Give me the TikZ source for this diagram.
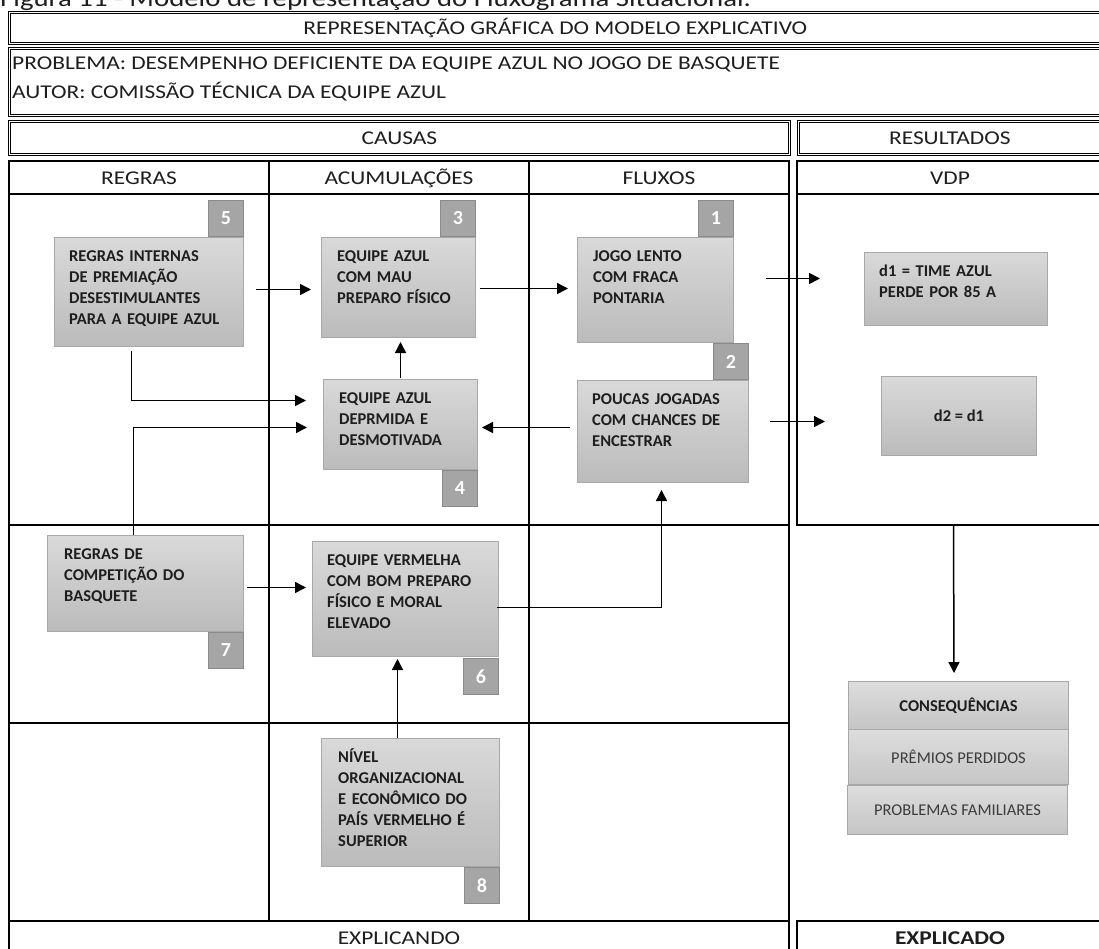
\documentclass[tikz,border=0pt]{standalone}
\usepackage{fontspec}
\setmainfont{Carlito}
\newfontfamily\hdrfont{Carlito}[FakeStretch=1.2]
\usetikzlibrary{arrows.meta,calc}
\definecolor{boxtop}{HTML}{D9D9D9}
\definecolor{boxbot}{HTML}{BBBBBB}
\definecolor{boxline}{HTML}{A8A8A8}
\definecolor{numfill}{HTML}{A5A5A5}
\definecolor{numline}{HTML}{8A8A8A}
\definecolor{txt}{HTML}{1E1E1E}
\definecolor{txtgray}{HTML}{3C3C3C}
\newcommand\hdrsize{\hdrfont\fontsize{19.5}{24}\selectfont}
\newcommand\boxsize{\fontsize{16.5}{21}\selectfont\bfseries}
\begin{document}
\begin{tikzpicture}[x=1pt,y=-1pt,
  frame/.style={draw=black, line width=0.7pt, double, double distance=1.2pt, anchor=north west, inner sep=0pt, font=\hdrsize, text=txt},
  gridline/.style={draw=black, line width=1.4pt},
  hdr/.style={font=\hdrsize, text=txt, inner sep=0pt},
  sbox/.style={draw=boxline, line width=1pt, top color=boxtop, bottom color=boxbot, anchor=north west, inner sep=0pt},
  btxt/.style={font=\boxsize, text=txt, align=left, anchor=north west, inner sep=0pt},
  numbox/.style={draw=numline, line width=1pt, fill=numfill, text=white, font=\fontsize{20}{24}\selectfont\bfseries, minimum width=35pt, minimum height=36pt, inner sep=0pt},
  arr/.style={draw=black, line width=1.5pt, -{Triangle[length=11pt,width=11pt]}}
]
\useasboundingbox (0,0) rectangle (1099,948);
\clip (0,0) rectangle (1099,948);
\fill[white] (0,0) rectangle (1099,948);

% caption (cut at the top)
\node[hdr, font=\hdrfont\fontsize{24}{28}\selectfont, anchor=base west] (caption) at (0,6) {Figura 11 - Modelo de representação do Fluxograma Situacional.};

% header boxes
\node[frame, minimum width=1092pt, minimum height=31pt] (title) at (9,12) {REPRESENTAÇÃO GRÁFICA DO MODELO EXPLICATIVO};
\node[frame, minimum width=1092pt, minimum height=67pt] (probbox) at (9,48) {};
\node[hdr, anchor=base west] (prob) at (12,69.5) {PROBLEMA: DESEMPENHO DEFICIENTE DA EQUIPE AZUL NO JOGO DE BASQUETE};
\node[hdr, anchor=base west] (autor) at (12,98.5) {AUTOR: COMISSÃO TÉCNICA DA EQUIPE AZUL};
\node[frame, minimum width=780pt, minimum height=33pt] (causas) at (9,121) {CAUSAS};
\node[frame, minimum width=303pt, minimum height=33pt] (result) at (798,121) {RESULTADOS};

% grid
\draw[gridline] (9,161) rectangle (789,921);
\draw[gridline] (9,194) -- (789,194);
\draw[gridline] (9,525) -- (789,525);
\draw[gridline] (9,723) -- (789,723);
\draw[gridline] (269,161) -- (269,921);
\draw[gridline] (529,161) -- (529,921);
\draw[gridline] (1102,161) -- (797,161) -- (797,525) -- (1102,525);
\draw[gridline] (797,194) -- (1102,194);
\draw[gridline] (9,960) -- (9,921) -- (789,921) -- (789,960);
\draw[gridline] (797,960) -- (797,921) -- (1102,921);

\node[hdr] (hregras) at (139,178) {REGRAS};
\node[hdr] (hacum) at (399,178) {ACUMULAÇÕES};
\node[hdr] (hflux) at (659,178) {FLUXOS};
\node[hdr] (hvdp) at (950,178) {VDP};
\node[hdr] (explicando) at (399,938) {EXPLICANDO};
\node[hdr, font=\hdrsize\bfseries] (explicado) at (950,938) {EXPLICADO};

% boxes
\node[sbox, minimum width=189pt, minimum height=109pt] (b5) at (54,237) {};
\node[sbox, minimum width=154pt, minimum height=100pt] (b3) at (321,237) {};
\node[sbox, minimum width=156pt, minimum height=105pt] (b1) at (577,237) {};
\node[sbox, minimum width=171pt, minimum height=102pt] (b2) at (577,380) {};
\node[sbox, minimum width=154pt, minimum height=90pt] (b4) at (323,379) {};
\node[sbox, minimum width=196pt, minimum height=96pt] (b7) at (47,535) {};
\node[sbox, minimum width=186pt, minimum height=115pt] (b6) at (312,541) {};
\node[sbox, minimum width=178pt, minimum height=128pt] (b8) at (321,738) {};
\node[sbox, minimum width=183pt, minimum height=73pt] (d1) at (864,252) {};
\node[sbox, minimum width=155pt, minimum height=79pt, font=\boxsize, text=txt] (d2) at (881,376) {d2 = d1};
\node[sbox, minimum width=220pt, minimum height=48pt, font=\boxsize, text=txt, top color=boxtop!90!white, bottom color=boxbot!85!white] (c1) at (848,681) {CONSEQUÊNCIAS};
\node[sbox, minimum width=220pt, minimum height=55pt, font=\fontsize{16.5}{21}\selectfont, text=txtgray, top color=boxtop!90!white, bottom color=boxbot!85!white] (c2) at (848,729) {PRÊMIOS PERDIDOS};
\node[sbox, minimum width=220pt, minimum height=49pt, font=\fontsize{16.5}{21}\selectfont, text=txtgray, top color=boxtop!90!white, bottom color=boxbot!85!white] (c3) at (847,785) {PROBLEMAS FAMILIARES};

% box texts
\node[btxt, text width=170pt] (t5) at ($(b5.north west)+(15,9.5)$) {\strut REGRAS INTERNAS\\DE PREMIAÇÃO\\DESESTIMULANTES\\PARA A EQUIPE AZUL};
\node[btxt, text width=135pt] (t3) at ($(b3.north west)+(16,9.5)$) {\strut EQUIPE AZUL\\COM MAU\\PREPARO FÍSICO};
\node[btxt, text width=135pt] (t1) at ($(b1.north west)+(16,9.5)$) {\strut JOGO LENTO\\COM FRACA\\PONTARIA};
\node[btxt, text width=155pt] (t2) at ($(b2.north west)+(15,9.5)$) {\strut POUCAS JOGADAS\\COM CHANCES DE\\ENCESTRAR};
\node[btxt, text width=135pt] (t4) at ($(b4.north west)+(16,9.5)$) {\strut EQUIPE AZUL\\DEPRMIDA E\\DESMOTIVADA};
\node[btxt, text width=175pt] (t7) at ($(b7.north west)+(17,9.5)$) {\strut REGRAS DE\\COMPETIÇÃO DO\\BASQUETE};
\node[btxt, text width=170pt] (t6) at ($(b6.north west)+(15,9.5)$) {\strut EQUIPE VERMELHA\\COM BOM PREPARO\\FÍSICO E MORAL\\ELEVADO};
\node[btxt, text width=160pt] (t8) at ($(b8.north west)+(17,9.5)$) {\strut NÍVEL\\ORGANIZACIONAL\\E ECONÔMICO DO\\PAÍS VERMELHO É\\SUPERIOR};
\node[btxt, text width=165pt] (td1) at ($(d1.north west)+(15,9.5)$) {\strut d1 = TIME AZUL\\PERDE POR 85 A};

% number squares
\node[numbox, anchor=south east] (n5) at (b5.north east) {5};
\node[numbox, anchor=south east] (n3) at (b3.north east) {3};
\node[numbox, anchor=south east] (n1) at (b1.north east) {1};
\node[numbox, anchor=south east] (n2) at (b2.north east) {2};
\node[numbox, anchor=north east] (n4) at (b4.south east) {4};
\node[numbox, anchor=north east] (n7) at (b7.south east) {7};
\node[numbox, anchor=north east] (n6) at ($(b6.south east)+(0,1)$) {6};
\node[numbox, anchor=north east] (n8) at (b8.south east) {8};

% VDP panel anchor
\coordinate (vdpbot) at (953.5,525);

% arrows
\draw[arr] ($(b5.east |- b3.west)+(12,2)$) -- ($(b3.west)+(-10,2)$);
\draw[arr] ($(b3.east)+(4,1)$) -- ($(b1.west)+(-9,-1.5)$);
\draw[arr] ($(b1.east)+(32,-11.5)$) -- ($(d1.west)+(-44,-10.5)$);
\draw[arr] ($(b2.east)+(21,-10)$) -- ($(d2.west)+(-56,5.5)$);
\draw[arr] ($(b2.west)+(-7,-4)$) -- ($(b4.east)+(4,3)$);
\draw[arr] ($(b4.north)+(0,-1)$) -- ($(b4.north |- b3.south)+(0,4)$);
\draw[arr] ($(b5.south)+(-17.5,4)$) |- ($(b4.west)+(-17,-24)$);
\draw[arr] ($(b7.north)+(-12,0)$) |- ($(b4.west)+(-16,3)$);
\draw[arr] ($(b7.east)+(3,4)$) -- ($(b6.west)+(-6,-11.5)$);
\draw[arr] ($(b8.north)+(-13,0)$) -- ($(b8.north |- b6.south)+(-13,2)$);
\draw[arr] ($(b6.east)+(-2,8.5)$) -| ($(b2.south)+(-1.5,7)$);
\draw[arr] (vdpbot) -- ($(c1.north)+(-4.5,-8)$);
\end{tikzpicture}
\end{document}
